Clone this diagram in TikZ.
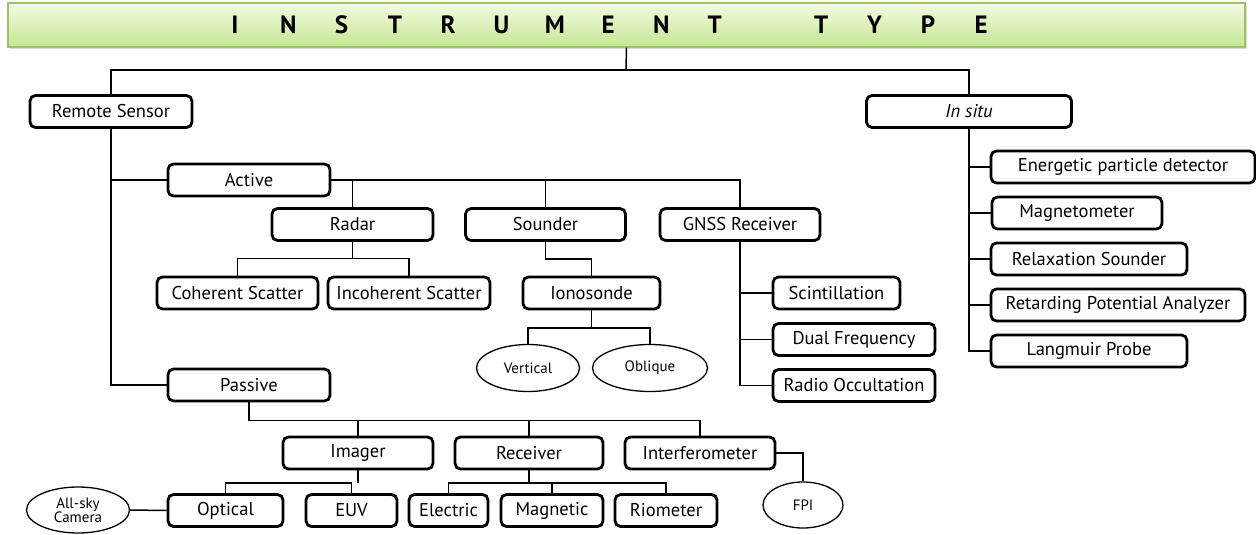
\documentclass[tikz,border=0pt]{standalone}
\usepackage{fontspec}
\setmainfont{PT Sans}
\usetikzlibrary{positioning,shapes.geometric,shadows}
\definecolor{bartop}{HTML}{F2FBE2}
\definecolor{barbot}{HTML}{C5E792}
\definecolor{barline}{HTML}{9FC06A}
\tikzset{
  catbox/.style={draw=black,fill=white,line width=2.8pt,rounded corners=5.5pt,
                 minimum height=32pt,inner sep=1pt,
                 font=\fontsize{18.5}{20}\selectfont},
  oval/.style={ellipse,draw=black,fill=white,line width=1.3pt,inner sep=0pt,
               align=center,font=\fontsize{15}{15}\selectfont},
  link/.style={line width=1.5pt},
  titlechar/.style={font=\fontsize{25}{27}\selectfont\bfseries}
}
\begin{document}
\begin{tikzpicture}[x=1pt,y=-1pt]
  \useasboundingbox (0,0) rectangle (1256,535);
  % title bar
  \node[draw=barline,line width=1.2pt,top color=bartop,bottom color=barbot,
        minimum width=1237pt,minimum height=44pt,
        drop shadow={shadow xshift=2pt,shadow yshift=-2.5pt,fill=black!30}]
        (bar) at (626.5,25) {};
  \foreach \k/\c in {0/I,1/N,2/S,3/T,4/R,5/U,6/M,7/E,8/N,9/T,11/T,12/Y,13/P,14/E}
    \node[titlechar] (t\k) at (235+53.3*\k,25) {\c};

  % top level
  \node[catbox,minimum width=162pt] (rs) at (111,111.5) {Remote Sensor};
  \node[catbox,minimum width=205pt] (ins) at (969,111.5) {\textit{In situ}};

  % remote sensor branch
  \node[catbox,minimum width=162pt] (act) at (249,180) {Active};
  \node[catbox,minimum width=162pt] (pas) at (249,385) {Passive};
  \node[catbox,minimum width=161pt] (rad) at (352.5,224.5) {Radar};
  \node[catbox,minimum width=160pt] (snd) at (545.5,224.5) {Sounder};
  \node[catbox,minimum width=160pt] (gnss) at (740,224.5) {GNSS Receiver};
  \node[catbox,minimum width=161pt] (coh) at (237.5,293) {Coherent Scatter};
  \node[catbox,minimum width=162pt] (inc) at (409,293) {Incoherent Scatter};
  \node[catbox,minimum width=137pt] (iono) at (591.5,293) {Ionosonde};
  \node[oval,minimum width=103pt,minimum height=47pt] (vert) at (528,368) {Vertical};
  \node[oval,minimum width=115pt,minimum height=47pt] (obl) at (650,368) {Oblique};
  \node[catbox,minimum width=127pt] (sci) at (836.5,293) {Scintillation};
  \node[catbox,minimum width=162pt] (dual) at (854,339.5) {Dual Frequency};
  \node[catbox,minimum width=162pt] (radio) at (854,385.5) {Radio Occultation};

  % passive branch
  \node[catbox,minimum width=150pt] (img) at (358,453) {Imager};
  \node[catbox,minimum width=148pt] (rcv) at (529,453) {Receiver};
  \node[catbox,minimum width=150pt] (itf) at (700,453) {Interferometer};
  \node[catbox,minimum width=115pt] (opt) at (225.5,510.5) {Optical};
  \node[catbox,minimum width=91pt] (euv) at (351.5,510.5) {EUV};
  \node[catbox,minimum width=79pt] (ele) at (448.5,510.5) {Electric};
  \node[catbox,minimum width=102pt] (mgn) at (552,510.5) {Magnetic};
  \node[catbox,minimum width=102pt] (rio) at (666,510.5) {Riometer};
  \node[oval,minimum width=103pt,minimum height=46pt] (sky) at (78,510) {All-sky\\[-1pt]Camera};
  \node[oval,minimum width=80pt,minimum height=46pt] (fpi) at (803,505) {FPI};

  % in situ branch
  \node[catbox,minimum width=264pt] (epd) at (1123,167) {Energetic particle detector};
  \node[catbox,minimum width=170pt] (magn) at (1077,213) {Magnetometer};
  \node[catbox,minimum width=196pt] (relax) at (1089,259) {Relaxation Sounder};
  \node[catbox,minimum width=254pt] (rpa) at (1118,305) {Retarding Potential Analyzer};
  \node[catbox,minimum width=196pt] (lang) at (1089,351) {Langmuir Probe};

  % connectors
  \coordinate (top) at (626,70);
  \draw[link] (bar.south) -- (top);
  \draw[link] (rs.north) |- (top) -| (ins.north);
  \draw[link] (rs.south) |- (pas.west);
  \draw[link] (act.west) -- (act.west -| rs.south);
  \draw[link] (act.east) -| (gnss.north);
  \draw[link] (rad.north) -- (rad.north |- act.east);
  \draw[link] (snd.north) -- (snd.north |- act.east);
  \draw[link] (rad.south) -- ++(0,17);
  \draw[link] (coh.north) -- ++(0,-17) -| (inc.north);
  \draw[link] (snd.south) -- ++(0,17) -| (iono.north);
  \draw[link] (iono.south) -- ++(0,17);
  \draw[link] (vert.north) -- ++(0,-16) -| (obl.north);
  \draw[link] (gnss.south) |- (radio.west);
  \draw[link] (sci.west) -- (sci.west -| gnss.south);
  \draw[link] (dual.west) -- (dual.west -| gnss.south);
  \draw[link] (ins.south) |- (lang.west);
  \draw[link] (epd.west) -- (epd.west -| ins.south);
  \draw[link] (magn.west) -- (magn.west -| ins.south);
  \draw[link] (relax.west) -- (relax.west -| ins.south);
  \draw[link] (rpa.west) -- (rpa.west -| ins.south);
  \draw[link] (pas.south) -- ++(0,18) -| (itf.north);
  \draw[link] (img.north) -- ++(0,-16);
  \draw[link] (rcv.north) -- ++(0,-16);
  \draw[link] (img.south) -- ++(0,13);
  \draw[link] (opt.north) -- ++(0,-10) -| (euv.north);
  \draw[link] (rcv.south) -- ++(0,13);
  \draw[link] (ele.north) -- ++(0,-10) -| (rio.north);
  \draw[link] (mgn.north) -- ++(0,-10);
  \draw[link] (itf.east) -| (fpi.north);
  \draw[link] (sky.east) -- (opt.west);
\end{tikzpicture}
\end{document}
